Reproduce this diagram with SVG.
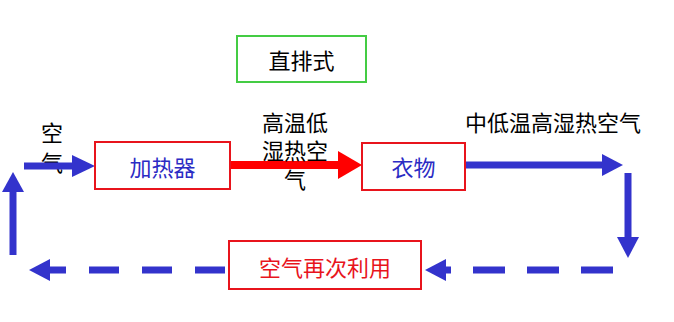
<svg xmlns="http://www.w3.org/2000/svg" width="674" height="322" viewBox="0 0 674 322">
<style>
text{font-family:"Noto Sans CJK SC","Noto Sans",sans-serif;font-size:22px;text-anchor:middle}
.box{fill:#fff;stroke-width:2}
.red{stroke:#e8141c}
.grn{stroke:#44cc44}
.bl{stroke:#3333cc;stroke-width:7;fill:none}
.hb{fill:#3333cc}
.dash{stroke-dasharray:32 22}
</style>
<rect width="674" height="322" fill="#fff"/>
<g id="labels">
<text x="52" y="141">空</text>
<text x="52" y="171">气</text>
</g>
<g id="connectors">
<line class="bl" x1="24" y1="166" x2="74" y2="166"/>
<polygon class="hb" points="72,155 95,166 72,177"/>
<line x1="230" y1="165" x2="340" y2="165" stroke="#ff0000" stroke-width="8"/>
<polygon fill="#ff0000" points="338,151 362,165 338,179"/>
<line class="bl" x1="465" y1="165" x2="604" y2="165"/>
<polygon class="hb" points="602,154 623,165 602,176"/>
<line class="bl" x1="628" y1="173" x2="628" y2="239"/>
<polygon class="hb" points="617,237 628,258 639,237"/>
<line class="bl dash" x1="613" y1="270" x2="440" y2="270"/>
<polygon class="hb" points="425,270 446,259 446,281"/>
<line class="bl" x1="225" y1="270" x2="45" y2="270" stroke-dasharray="30 23"/>
<polygon class="hb" points="29,270 50,259 50,281"/>
<line class="bl" x1="13" y1="255" x2="13" y2="190"/>
<polygon class="hb" points="2,192 13,172 24,192"/>
</g>
<g id="title">
<rect class="box grn" x="237" y="36" width="129" height="46"/>
<text x="301.5" y="69" fill="#000">直排式</text>
</g>
<g id="heater">
<rect class="box red" x="95" y="142" width="135" height="47"/>
<text x="162.5" y="176" fill="#2b2bc4">加热器</text>
</g>
<g id="hot-air-label">
<text x="295" y="131">高温低</text>
<text x="295" y="159">湿热空</text>
<text x="295" y="188">气</text>
</g>
<g id="clothes">
<rect class="box red" x="362" y="143" width="103" height="47"/>
<text x="413.5" y="176" fill="#2b2bc4">衣物</text>
</g>
<g id="humid-air-label">
<text x="553" y="131">中低温高湿热空气</text>
</g>
<g id="reuse">
<rect class="box red" x="229" y="241" width="192" height="48"/>
<text x="325" y="276" fill="#e8141c">空气再次利用</text>
</g>
</svg>
